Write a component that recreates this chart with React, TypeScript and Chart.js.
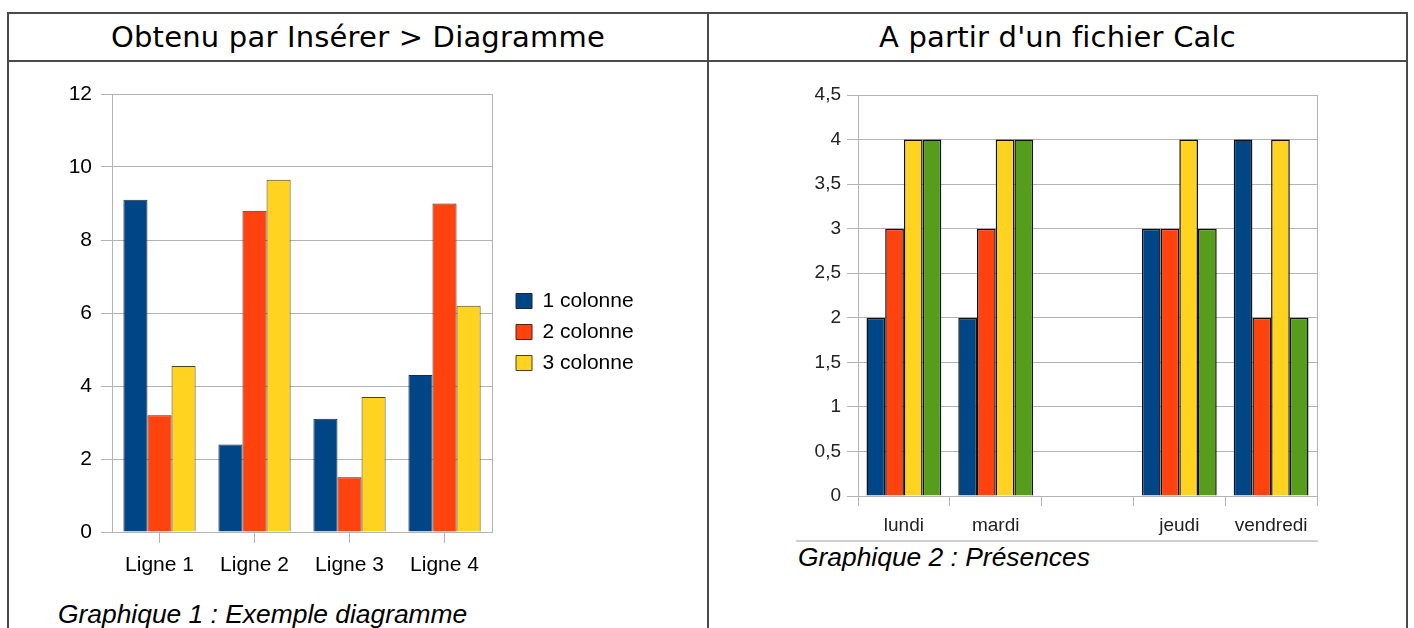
import React, { useEffect, useRef } from 'react';
import { Chart, registerables } from 'chart.js';

Chart.register(...registerables);

// ---- Graphique 1 : Exemple diagramme ----
const categories1 = ['Ligne 1', 'Ligne 2', 'Ligne 3', 'Ligne 4'];
const seriesNames1 = ['1 colonne', '2 colonne', '3 colonne'];
const colonne1 = [9.1, 2.4, 3.1, 4.3];
const colonne2 = [3.2, 8.8, 1.5, 9.0];
const colonne3 = [4.55, 9.65, 3.7, 6.2];
const yMax1 = 12;
const yStep1 = 2;

// ---- Graphique 2 : Présences ----
const categories2 = ['lundi', 'mardi', '', 'jeudi', 'vendredi'];
const seriesNames2 = ['Série 1', 'Série 2', 'Série 3', 'Série 4'];
const serie1 = [2, 2, null, 3, 4];
const serie2 = [3, 3, null, 3, 2];
const serie3 = [4, 4, null, 4, 4];
const serie4 = [4, 4, null, 3, 2];
const yTickLabels2 = ['0', '0,5', '1', '1,5', '2', '2,5', '3', '3,5', '4', '4,5'];
const yMax2 = 4.5;
const yStep2 = 0.5;

const BLUE = '#004586';
const ORANGE = '#ff420e';
const YELLOW = '#ffd320';
const GREEN = '#579d1c';
const GRID = '#b3b3b3';
const LINE = '#4a4a4a';

export default function App() {
  const ref1 = useRef<HTMLCanvasElement>(null);
  const ref2 = useRef<HTMLCanvasElement>(null);

  useEffect(() => {
    const font1 = { family: 'Liberation Sans', size: 21 };
    const font2 = { family: 'Liberation Sans', size: 19 };

    const c1 = new Chart(ref1.current!, {
      type: 'bar',
      data: {
        labels: categories1,
        datasets: [
          { label: seriesNames1[0], data: colonne1, backgroundColor: BLUE, borderColor: '#1f2a36', borderWidth: 1 },
          { label: seriesNames1[1], data: colonne2, backgroundColor: ORANGE, borderColor: '#4a2418', borderWidth: 1 },
          { label: seriesNames1[2], data: colonne3, backgroundColor: YELLOW, borderColor: '#4a4220', borderWidth: 1 },
        ],
      },
      options: {
        animation: false,
        responsive: false,
        maintainAspectRatio: false,
        devicePixelRatio: 1,
        layout: { padding: { left: 0, top: 24, right: 46.4, bottom: 0 } },
        datasets: { bar: { categoryPercentage: 0.76, barPercentage: 1 } },
        plugins: {
          legend: {
            position: 'right',
            align: 'center',
            fullSize: false,
            maxWidth: 140,
            title: { display: true, text: '', font: { size: 10, lineHeight: 1.2 }, padding: 13 },
            labels: {
              boxWidth: 16,
              boxHeight: 15,
              padding: 10,
              color: '#000',
              font: font1,
            },
          },
          tooltip: { enabled: false },
        },
        scales: {
          x: {
            grid: { display: true, drawOnChartArea: false, drawTicks: true, tickLength: 11, offset: false, color: GRID },
            border: { display: true, color: GRID },
            ticks: { color: '#000', font: font1, padding: 10 },
            afterFit: (s: any) => { s.height = 58; },
          },
          y: {
            min: 0,
            max: yMax1,
            ticks: { stepSize: yStep1, color: '#000', font: font1, padding: 9 },
            grid: { color: GRID, tickLength: 11 },
            border: { display: true, color: GRID },
            afterFit: (s: any) => { s.width = 82; },
          },
          yR: {
            position: 'right',
            min: 0,
            max: yMax1,
            ticks: { display: false },
            grid: { display: false },
            border: { display: true, color: GRID },
            afterFit: (s: any) => { s.width = 14; },
          },
        },
      } as any,
    });

    const c2 = new Chart(ref2.current!, {
      type: 'bar',
      data: {
        labels: categories2,
        datasets: [
          { label: seriesNames2[0], data: serie1, backgroundColor: BLUE, borderColor: '#111', borderWidth: 1.5 },
          { label: seriesNames2[1], data: serie2, backgroundColor: ORANGE, borderColor: '#111', borderWidth: 1.5 },
          { label: seriesNames2[2], data: serie3, backgroundColor: YELLOW, borderColor: '#111', borderWidth: 1.5 },
          { label: seriesNames2[3], data: serie4, backgroundColor: GREEN, borderColor: '#111', borderWidth: 1.5 },
        ],
      },
      options: {
        animation: false,
        responsive: false,
        maintainAspectRatio: false,
        devicePixelRatio: 1,
        layout: { padding: { left: 0, top: 25, right: 83, bottom: 0 } },
        datasets: { bar: { categoryPercentage: 0.815, barPercentage: 1 } },
        plugins: {
          legend: { display: false },
          tooltip: { enabled: false },
        },
        scales: {
          x: {
            grid: { display: true, drawOnChartArea: false, drawTicks: true, tickLength: 10, offset: true, color: GRID },
            border: { display: true, color: GRID },
            ticks: { color: '#222', font: font2, padding: 8 },
            afterFit: (s: any) => { s.height = 44; },
          },
          y: {
            min: 0,
            max: yMax2,
            ticks: {
              stepSize: yStep2,
              color: '#222',
              font: font2,
              padding: 6,
              callback: (_v: any, i: number) => yTickLabels2[i],
            },
            grid: { color: GRID, tickLength: 11 },
            border: { display: true, color: GRID },
            afterFit: (s: any) => { s.width = 98; },
          },
          yR: {
            position: 'right',
            min: 0,
            max: yMax2,
            ticks: { display: false },
            grid: { display: false },
            border: { display: true, color: GRID },
            afterFit: (s: any) => { s.width = 0; },
          },
        },
      } as any,
    });

    return () => {
      c1.destroy();
      c2.destroy();
    };
  }, []);

  const hline = (left: number, top: number, width: number, color = LINE, h = 2) => (
    <div style={{ position: 'absolute', left, top, width, height: h, background: color }} />
  );
  const vline = (left: number, top: number, height: number, color = LINE) => (
    <div style={{ position: 'absolute', left, top, width: 2, height, background: color }} />
  );

  const headerStyle: React.CSSProperties = {
    position: 'absolute',
    top: 14,
    height: 47,
    lineHeight: '47px',
    textAlign: 'center',
    fontFamily: 'DejaVu Sans',
    fontSize: 29,
    letterSpacing: '0.2px',
    color: '#000',
    whiteSpace: 'nowrap',
  };
  const captionStyle: React.CSSProperties = {
    position: 'absolute',
    fontFamily: 'Liberation Sans',
    fontStyle: 'italic',
    fontSize: 26.4,
    lineHeight: '26px',
    color: '#000',
    whiteSpace: 'nowrap',
  };

  return (
    <div style={{ position: 'absolute', left: 0, top: 0, width: 1414, height: 628, background: '#fff', overflow: 'hidden' }}>
      {hline(7, 12, 1401)}
      {hline(7, 60, 1401)}
      {vline(7, 12, 620)}
      {vline(707, 12, 620)}
      {vline(1406, 12, 620)}

      <div style={{ ...headerStyle, left: 9, width: 698 }}>Obtenu par Insérer &gt; Diagramme</div>
      <div style={{ ...headerStyle, left: 709, width: 697 }}>A partir d'un fichier Calc</div>

      <canvas ref={ref1} width={660} height={520} style={{ position: 'absolute', left: 30, top: 70, width: 660, height: 520 }} />
      <canvas ref={ref2} width={640} height={470} style={{ position: 'absolute', left: 760, top: 70, width: 640, height: 470 }} />

      {hline(796, 540, 522, '#d0d0d0', 2)}

      <div style={{ ...captionStyle, left: 58, top: 601 }}>Graphique 1 : Exemple diagramme</div>
      <div style={{ ...captionStyle, left: 798, top: 544 }}>Graphique 2 : Présences</div>
    </div>
  );
}
